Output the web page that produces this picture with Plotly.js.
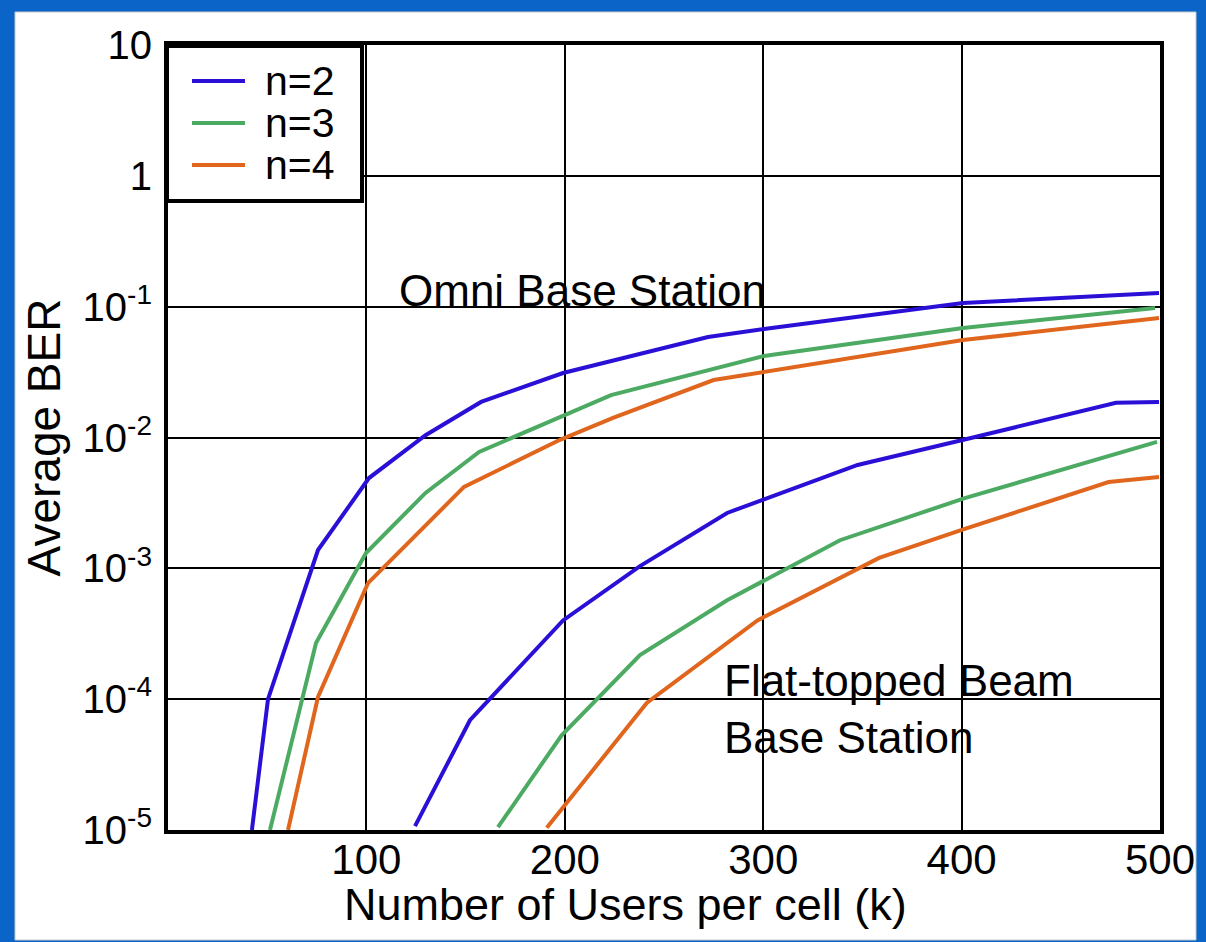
<!DOCTYPE html>
<html>
<head>
<meta charset="utf-8">
<script src="https://cdn.plot.ly/plotly-3.0.1.min.js"></script>
<style>
  html, body { margin: 0; padding: 0; background: #0b64c8; }
  #chart { width: 1206px; height: 942px; }
</style>
</head>
<body>
<div id="chart"></div>
<script>
// ---- Data ----
const seriesNames = ['n=2', 'n=3', 'n=4'];
const seriesColors = ['#2a10d6', '#4caa62', '#e0661e'];

// Omni base station curves
const omniX2 = [42.3, 50.4, 75.6, 101.3, 129.8, 157.8, 199.1, 272.2, 300.4, 400.7, 499.5];
const omniY2 = [1e-5, 1.0e-4, 1.38e-3, 4.9e-3, 0.0104, 0.0187, 0.0311, 0.0586, 0.0675, 0.1067, 0.127];
const omniX3 = [51.4, 74.6, 99.8, 129.8, 156.8, 223.3, 300.4, 400.7, 497.5];
const omniY3 = [1e-5, 2.69e-4, 1.31e-3, 3.77e-3, 7.75e-3, 0.0211, 0.042, 0.0687, 0.0977];
const omniX4 = [60.5, 75.6, 100.8, 149.2, 197.6, 224.3, 275.0, 300.4, 400.7, 499.5];
const omniY4 = [1e-5, 1.04e-4, 7.7e-4, 4.19e-3, 9.6e-3, 0.0141, 0.0275, 0.0317, 0.0556, 0.0818];

// Flat-topped beam base station curves
const flatX2 = [124.5, 152.2, 199.1, 237.9, 281.8, 347.6, 400.5, 477.8, 499.5];
const flatY2 = [1.07e-5, 6.9e-5, 4.0e-4, 1.04e-3, 2.65e-3, 6.17e-3, 9.57e-3, 0.0184, 0.0187];
const flatX3 = [166.3, 198.4, 237.9, 281.8, 338.7, 401.6, 498.5];
const flatY3 = [1.05e-5, 5.3e-5, 2.17e-4, 5.7e-4, 1.64e-3, 3.44e-3, 9.25e-3];
const flatX4 = [190.9, 241.3, 297.1, 358.4, 401.6, 474.1, 499.5];
const flatY4 = [1.04e-5, 9.35e-5, 4.0e-4, 1.2e-3, 2.0e-3, 4.57e-3, 4.99e-3];

// Axis ticks
const xTickVals = [100, 200, 300, 400, 500];
const xTickText = ['100', '200', '300', '400', '500'];
const yTickVals = [1e-5, 1e-4, 1e-3, 1e-2, 1e-1, 1, 10];
const yTickText = ['10<sup>-5</sup>', '10<sup>-4</sup>', '10<sup>-3</sup>', '10<sup>-2</sup>', '10<sup>-1</sup>', '1', '10'];

// Texts
const xTitle = 'Number of Users per cell (k)';
const yTitle = 'Average BER';
const omniLabel = 'Omni Base Station';
const flatLabel = 'Flat-topped Beam<br>Base Station';

// ---- Geometry helpers (figure pixels -> paper fractions) ----
const W = 1206, H = 942;
const M = { l: 168, r: 46, t: 45, b: 112 };
const PW = W - M.l - M.r, PH = H - M.t - M.b;
const px = p => (p - M.l) / PW;
const py = p => (H - M.b - p) / PH;

// ---- Build traces ----
const omniX = [omniX2, omniX3, omniX4];
const omniY = [omniY2, omniY3, omniY4];
const flatX = [flatX2, flatX3, flatX4];
const flatY = [flatY2, flatY3, flatY4];

const traces = [];
for (let i = 0; i < 3; i++) {
  traces.push({
    x: omniX[i], y: omniY[i], type: 'scatter', mode: 'lines',
    name: seriesNames[i], legendgroup: seriesNames[i], showlegend: false,
    line: { color: seriesColors[i], width: 4 }
  });
}
for (let i = 0; i < 3; i++) {
  traces.push({
    x: flatX[i], y: flatY[i], type: 'scatter', mode: 'lines',
    name: seriesNames[i], legendgroup: seriesNames[i], showlegend: false,
    line: { color: seriesColors[i], width: 4 }
  });
}

const FONT = 'Liberation Sans, Arial, Helvetica, sans-serif';

// ---- Legend box (drawn as shapes + text) ----
const shapes = [{
  type: 'rect', xref: 'paper', yref: 'paper', layer: 'below',
  x0: px(15), x1: px(1196), y0: py(940), y1: py(12),
  fillcolor: '#ffffff', line: { color: '#c8c8c8', width: 1 }
}, {
  type: 'rect', xref: 'paper', yref: 'paper', layer: 'above',
  x0: px(167), x1: px(362), y0: py(201), y1: py(46),
  fillcolor: '#ffffff', line: { color: '#000000', width: 4 }
}];
const annotations = [];
const legendRows = [81, 123, 165];
for (let i = 0; i < 3; i++) {
  shapes.push({
    type: 'line', xref: 'paper', yref: 'paper', layer: 'above',
    x0: px(192), x1: px(245), y0: py(legendRows[i]), y1: py(legendRows[i]),
    line: { color: seriesColors[i], width: 4 }
  });
  annotations.push({
    text: seriesNames[i], xref: 'paper', yref: 'paper',
    x: px(264), y: py(legendRows[i]), xanchor: 'left', yanchor: 'middle',
    showarrow: false, borderpad: 0, font: { family: FONT, size: 41, color: '#000' }
  });
}
annotations.push({
  text: omniLabel, xref: 'x', yref: 'y', x: 209, y: -0.873,
  xanchor: 'center', yanchor: 'middle', showarrow: false,
  font: { family: FONT, size: 44, color: '#000' }
});
annotations.push({
  text: flatLabel, xref: 'x', yref: 'y', x: 279.2, y: -4.075,
  xanchor: 'left', yanchor: 'middle', align: 'left', showarrow: false,
  font: { family: FONT, size: 44, color: '#000' }
});
annotations.push({
  text: xTitle, xref: 'paper', yref: 'paper', x: px(625), y: py(904),
  xanchor: 'center', yanchor: 'middle', showarrow: false,
  font: { family: FONT, size: 45, color: '#000' }
});

const layout = {
  width: W, height: H,
  margin: { l: M.l, r: M.r, t: M.t, b: M.b, pad: 0 },
  paper_bgcolor: '#0b64c8',
  plot_bgcolor: '#ffffff',
  font: { family: FONT, color: '#000000', size: 42 },
  showlegend: false,
  xaxis: {
    type: 'linear', range: [0, 500],
    tickmode: 'array', tickvals: xTickVals, ticktext: xTickText,
    ticks: '', tickfont: { family: FONT, size: 42, color: '#000' },
    ticklabelstandoff: -10,
    showgrid: true, gridcolor: '#000000', gridwidth: 2,
    showline: true, linecolor: '#000000', linewidth: 4, mirror: true,
    zeroline: false
  },
  yaxis: {
    type: 'log', range: [-5, 1],
    tickmode: 'array', tickvals: yTickVals, ticktext: yTickText,
    ticks: '', tickfont: { family: FONT, size: 40, color: '#000' },
    ticklabelstandoff: 4,
    showgrid: true, gridcolor: '#000000', gridwidth: 2,
    showline: true, linecolor: '#000000', linewidth: 4, mirror: true,
    zeroline: false,
    title: { text: yTitle, font: { family: FONT, size: 46, color: '#000' }, standoff: 8 }
  },
  shapes: shapes,
  annotations: annotations
};

Plotly.newPlot('chart', traces, layout, { staticPlot: true, displayModeBar: false });
</script>
</body>
</html>
